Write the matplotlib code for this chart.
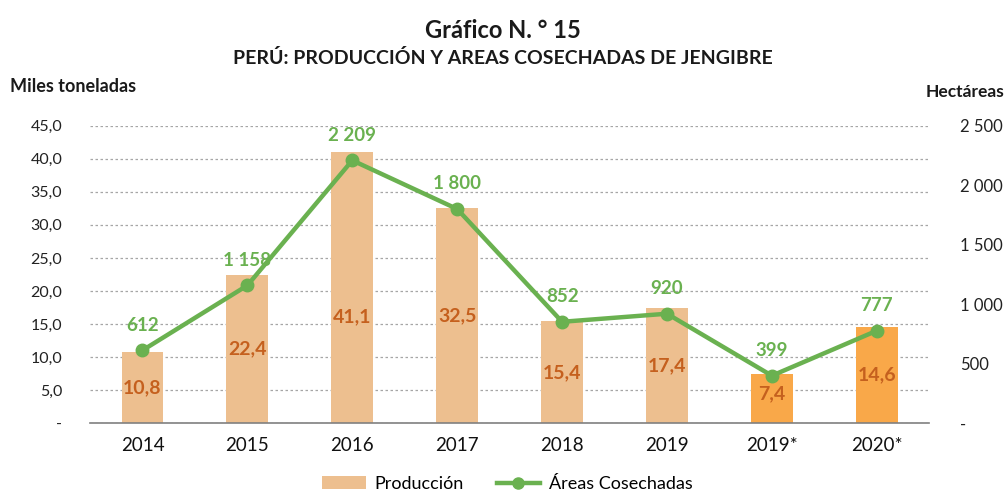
import numpy as np
import matplotlib.pyplot as plt
from matplotlib.patches import Patch
from matplotlib.lines import Line2D

plt.rcParams['font.family'] = ['Lato', 'DejaVu Sans']

years = ["2014", "2015", "2016", "2017", "2018", "2019", "2019*", "2020*"]
produccion = [10.8, 22.4, 41.1, 32.5, 15.4, 17.4, 7.4, 14.6]
areas = [612, 1158, 2209, 1800, 852, 920, 399, 777]

light = "#EDBF8F"
orange = "#F9A849"
green = "#6AB150"
dark_orange = "#C5601E"

bar_colors = [light] * 6 + [orange] * 2
# relative height of the value label inside each bar
label_frac = [0.5, 0.5, 0.39, 0.5, 0.5, 0.5, 0.6, 0.5]


def fmt_num(v):
    return f"{v:,.0f}".replace(",", " ")


fig = plt.figure(figsize=(10.05, 4.99), dpi=100)
ax = fig.add_axes([0.0896, 0.152, 0.835, 0.596])
x = np.arange(len(years))

ax.bar(x, produccion, width=0.4, color=bar_colors, zorder=2)
ax.set_ylim(0, 45)
ax.set_xlim(-0.5, len(years) - 0.5)
ax.set_yticks(np.arange(0, 46, 5))
ax.set_yticklabels(["-"] + [f"{v:.1f}".replace(".", ",") for v in np.arange(5, 46, 5)])
ax.yaxis.grid(True, linestyle=(0, (2, 2)), color="#A6A6A6", linewidth=0.9, zorder=0)
ax.set_xticks(x)
ax.set_xticklabels(years)
ax.tick_params(axis="y", length=0, pad=20, labelsize=11.5, colors="#222222")
ax.tick_params(axis="x", length=0, pad=10, labelsize=13.5, colors="#111111")
for s in ["top", "left", "right"]:
    ax.spines[s].set_visible(False)
ax.spines["bottom"].set_color("#808080")
ax.spines["bottom"].set_linewidth(1.2)

for xi, v, f in zip(x, produccion, label_frac):
    ax.text(xi, v * f, f"{v:.1f}".replace(".", ","), ha="center", va="center",
            fontsize=14, fontweight="bold", color=dark_orange, zorder=5)

ax2 = ax.twinx()
ax2.set_ylim(0, 2500)
ax2.set_yticks(np.arange(0, 2501, 500))
ax2.set_yticklabels(["-"] + [fmt_num(v) for v in np.arange(500, 2501, 500)])
ax2.tick_params(axis="y", length=0, pad=22, labelsize=12, colors="#222222")
for s in ["top", "left", "right", "bottom"]:
    ax2.spines[s].set_visible(False)

ax2.plot(x, areas, color=green, linewidth=3.2, marker="o", markersize=9, zorder=4)
for xi, v in zip(x, areas):
    ax2.annotate(fmt_num(v), (xi, v), xytext=(0, 12), textcoords="offset points",
                 ha="center", va="bottom", fontsize=13.5, fontweight="bold", color=green)

fig.text(0.5, 0.938, "Gráfico N. ° 15", ha="center", va="center",
         fontsize=17, fontweight="bold", color="#1a1a1a")
fig.text(0.5, 0.884, "PERÚ: PRODUCCIÓN Y AREAS COSECHADAS DE JENGIBRE", ha="center",
         va="center", fontsize=14, fontweight="bold", color="#1a1a1a")
fig.text(0.01, 0.826, "Miles toneladas", ha="left", va="center",
         fontsize=13, fontweight="bold", color="#1a1a1a")
fig.text(0.921, 0.815, "Hectáreas", ha="left", va="center",
         fontsize=12.5, fontweight="bold", color="#1a1a1a")

handles = [Patch(facecolor=light, label="Producción"),
           Line2D([0], [0], color=green, linewidth=3.2, marker="o", markersize=8,
                  label="Áreas Cosechadas")]
fig.legend(handles=handles, loc="center", bbox_to_anchor=(0.505, 0.03), ncol=2,
           frameon=False, fontsize=13, handlelength=2.4, handletextpad=0.5,
           columnspacing=1.8)

fig.savefig("out.png", dpi=100)
